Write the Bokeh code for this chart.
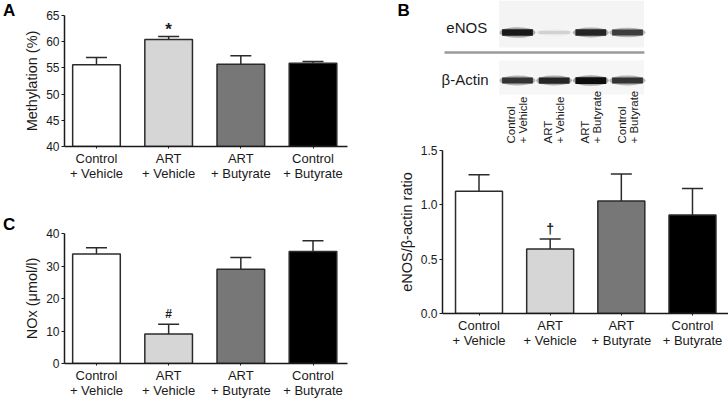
import math
from bokeh.plotting import figure
from bokeh.layouts import row, column
from bokeh.models import (ColumnDataSource, FixedTicker, Range1d, Whisker, TeeHead,
                          PrintfTickFormatter)
from bokeh.core.properties import value
from bokeh.embed import file_html
from bokeh.resources import INLINE

# ---------------- data ----------------
groups = ["Control\n+ Vehicle", "ART\n+ Vehicle", "ART\n+ Butyrate", "Control\n+ Butyrate"]
bar_colors = ["#ffffff", "#d6d6d6", "#777777", "#000000"]

methylation = [55.6, 60.4, 55.7, 55.9]
methylation_err = [1.4, 0.6, 1.6, 0.3]
methylation_sig = ["", "*", "", ""]
methylation_ticks = [40, 45, 50, 55, 60, 65]

nox = [33.7, 9.1, 29.0, 34.5]
nox_err = [1.9, 3.0, 3.6, 3.3]
nox_sig = ["", "#", "", ""]
nox_ticks = [0, 10, 20, 30, 40]

enos_ratio = [1.126, 0.594, 1.035, 0.906]
enos_ratio_err = [0.150, 0.092, 0.248, 0.245]
enos_sig = ["", "\u2020", "", ""]
enos_ticks = [0.0, 0.5, 1.0, 1.5]

blot_lanes = ["Control\n+ Vehicle", "ART\n+ Vehicle", "ART\n+ Butyrate", "Control\n+ Butyrate"]
enos_band = [0.90, 0.18, 0.86, 0.76]
actin_band = [0.80, 0.85, 0.95, 0.80]

panel_letters = ["A", "C"]

FONT = "Liberation Sans"
INK = "#1a1a1a"
EDGE = "#2b2b2b"


def bar_panel(vals, errs, sig, y0, y1, yticks, ylabel, width, height,
              bl, br, bt, bb, x0, x1, sig_size, sig_offset, fmt=None):
    p = figure(width=width, height=height, x_range=Range1d(x0, x1),
               y_range=Range1d(y0, y1), output_backend="svg", toolbar_location=None,
               min_border_left=bl, min_border_right=br, min_border_top=bt,
               min_border_bottom=bb, frame_align=False)
    xs = list(range(len(vals)))
    tops = [v + e for v, e in zip(vals, errs)]
    src = ColumnDataSource(dict(x=xs, v=vals, top=tops, color=bar_colors, sig=sig))
    p.vbar(x="x", top="v", bottom=y0, width=0.66, fill_color="color",
           line_color=EDGE, line_width=1.5, source=src)
    p.add_layout(Whisker(source=src, base="x", lower="v", upper="top",
                         dimension="height", line_color=EDGE, line_width=1.5,
                         upper_head=TeeHead(size=21, line_color=EDGE, line_width=1.5),
                         lower_head=None))
    p.text(x="x", y="top", text="sig", source=src, text_align="center",
           text_baseline="bottom", y_offset=sig_offset, text_font=value(FONT),
           text_font_size=sig_size, text_font_style="bold", text_color=INK)

    p.grid.visible = False
    p.outline_line_color = None
    p.background_fill_color = "white"
    p.border_fill_color = "white"

    xa = p.xaxis[0]
    xa.ticker = FixedTicker(ticks=xs)
    xa.major_label_overrides = {i: g for i, g in enumerate(groups)}
    xa.major_label_text_font = FONT
    xa.major_label_text_font_size = "13px"
    xa.major_label_text_line_height = 1.0
    xa.major_label_text_color = INK
    xa.major_tick_out = 2
    xa.major_tick_in = 0
    xa.minor_tick_line_color = None
    xa.major_label_standoff = 2
    xa.axis_line_width = 1.5
    xa.axis_line_color = INK
    xa.major_tick_line_color = INK

    ya = p.yaxis[0]
    ya.ticker = FixedTicker(ticks=yticks)
    if fmt:
        ya.formatter = PrintfTickFormatter(format=fmt)
    ya.major_label_text_font = FONT
    ya.major_label_text_font_size = "12px"
    ya.major_label_text_color = INK
    ya.major_tick_out = 3
    ya.major_tick_in = 0
    ya.minor_tick_line_color = None
    ya.major_label_standoff = 2
    ya.axis_line_width = 1.5
    ya.axis_line_color = INK
    ya.major_tick_line_color = INK
    ya.axis_label = ylabel
    ya.axis_label_text_font = FONT
    ya.axis_label_text_font_size = "14.5px"
    ya.axis_label_text_font_style = "normal"
    ya.axis_label_text_color = INK
    ya.axis_label_standoff = 3
    return p


def bare(width, height, xr, yr):
    p = figure(width=width, height=height, x_range=xr, y_range=yr,
               output_backend="svg", toolbar_location=None, x_axis_location=None,
               y_axis_location=None, min_border=0, frame_align=False)
    p.grid.visible = False
    p.outline_line_color = None
    return p


# ---------------- panel letters A / C (page-pixel strip) ----------------
pL = bare(16, 400, Range1d(0, 16), Range1d(400, 0))
pL.text(x=[2.5, 2.5], y=[0.5, 214], text=panel_letters, text_font=value(FONT),
        text_font_size="17px", text_font_style="bold", text_baseline="top",
        text_align="left", text_color="black")

# ---------------- panel A ----------------
pA = bar_panel(methylation, methylation_err, methylation_sig, 40, 65, methylation_ticks,
               "Methylation (%)", 348, 183, 48, 17, 15, 36, -0.443, 3.478, "17px", 3)

# ---------------- panel C ----------------
pC = bar_panel(nox, nox_err, nox_sig, 0, 40, nox_ticks, "NOx (\u03bcmol/l)",
               348, 217, 48, 17, 50, 36, -0.443, 3.478, "12px", -3)

# ---------------- panel B: blot ----------------
pBlot = bare(364, 144, Range1d(-4.172, 5.754), Range1d(144, 0))
lanes = list(range(len(blot_lanes)))

pBlot.quad(left=-0.5, right=3.45, top=0, bottom=47, fill_color="#f4f4f4", line_color=None)
pBlot.quad(left=-0.5, right=3.45, top=60, bottom=94, fill_color="#f6f6f6", line_color=None)


def gray(v):
    g = max(0, min(255, int(round(255 * (1 - v)))))
    return "#%02x%02x%02x" % (g, g, g)


for row_y, inten in ((32, enos_band), (80, actin_band)):
    src = ColumnDataSource(dict(x=lanes, c=[gray(v) for v in inten],
                                h=[2 + 5 * v for v in inten],
                                hh=[5 + 6 * v for v in inten]))
    pBlot.ellipse(x="x", y=row_y, width=0.98, height="hh", fill_color="c",
                  fill_alpha=0.35, line_color=None, source=src)
    pBlot.rect(x="x", y=row_y, width=0.84, height="h", fill_color="c",
               line_color=None, source=src)

pBlot.segment(x0=-1.99, y0=52, x1=3.46, y1=52, line_color="#9a9a9a", line_width=2.5)
pBlot.text(x=[-1.94, -2.07], y=[27, 79], text=["eNOS", "\u03b2-Actin"],
           text_font=value(FONT), text_font_size="15px", text_align="left",
           text_baseline="middle", text_color=INK)
pBlot.text(x=lanes, y=143, text=blot_lanes, angle=math.pi / 2, text_align="left",
           text_baseline="middle", text_font=value(FONT), text_font_size="11.5px",
           text_line_height=1.0, text_color=INK)
pBlot.text(x=[-3.27], y=[0.5], text=["B"], text_font=value(FONT), text_font_size="17px",
           text_font_style="bold", text_baseline="top", text_align="left",
           text_color="black")

# ---------------- panel B: bars ----------------
pB = bar_panel(enos_ratio, enos_ratio_err, enos_sig, 0, 1.5, enos_ticks,
               "eNOS/\u03b2-actin ratio", 364, 256, 78, 0, 6, 87, -0.513, 3.506,
               "14px", -2, fmt="%.1f")

layout = row(pL, column(pA, pC, spacing=0), column(pBlot, pB, spacing=0), spacing=0)

with open("out.html", "w") as f:
    f.write(file_html(layout, INLINE))
